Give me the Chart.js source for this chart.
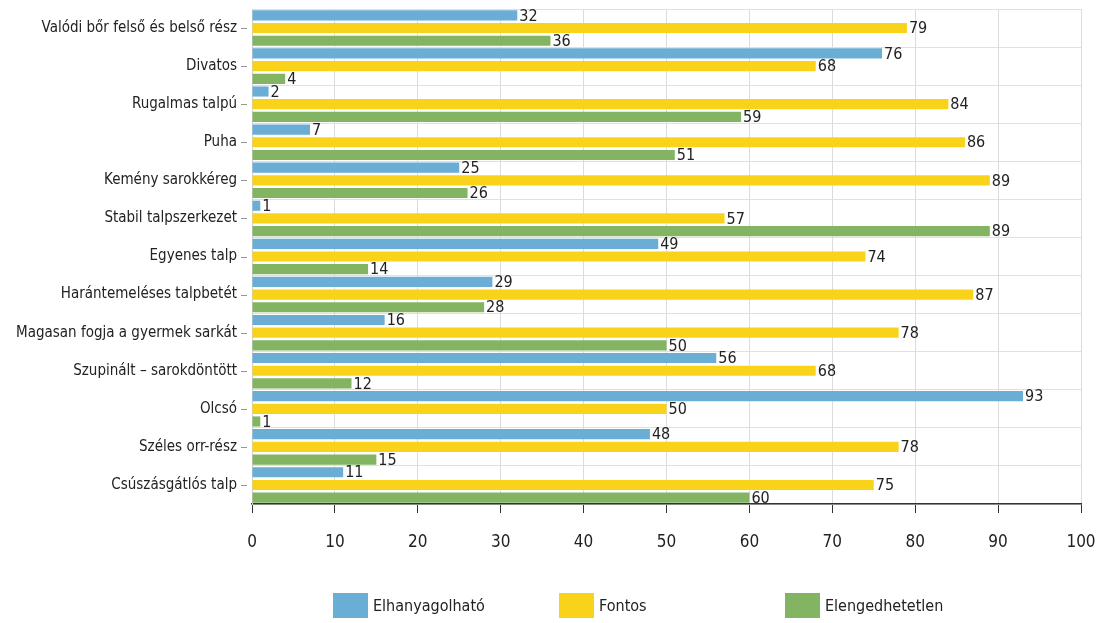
<!DOCTYPE html>
<html>
<head>
<meta charset="utf-8">
<script src="https://cdn.jsdelivr.net/npm/chart.js@4.4.1/dist/chart.umd.min.js"></script>
<style>
  html, body { margin: 0; padding: 0; background: #ffffff; }
  #wrap { width: 1101px; height: 623px; }
</style>
</head>
<body>
<div id="wrap"><canvas id="c" width="1101" height="623"></canvas></div>
<script>
const categories = [
  "Valódi bőr felső és belső rész",
  "Divatos",
  "Rugalmas talpú",
  "Puha",
  "Kemény sarokkéreg",
  "Stabil talpszerkezet",
  "Egyenes talp",
  "Harántemeléses talpbetét",
  "Magasan fogja a gyermek sarkát",
  "Szupinált – sarokdöntött",
  "Olcsó",
  "Széles orr-rész",
  "Csúszásgátlós talp"
];
const seriesNames = ["Elhanyagolható", "Fontos", "Elengedhetetlen"];
const elhanyagolhato = [32, 76, 2, 7, 25, 1, 49, 29, 16, 56, 93, 48, 11];
const fontos = [79, 68, 84, 86, 89, 57, 74, 87, 78, 68, 50, 78, 75];
const elengedhetetlen = [36, 4, 59, 51, 26, 89, 14, 28, 50, 12, 1, 15, 60];
const xMin = 0, xMax = 100, xStep = 10;

const FONT = "'DejaVu Sans Condensed', 'DejaVu Sans', sans-serif";
const colors = ["#6aaed6", "#f9d31a", "#82b462"];

const valueLabels = {
  id: 'valueLabels',
  afterDatasetsDraw(chart) {
    const ctx = chart.ctx;
    ctx.save();
    ctx.font = "16px " + FONT;
    ctx.fillStyle = "#222";
    ctx.textAlign = "left";
    ctx.textBaseline = "middle";
    chart.data.datasets.forEach((ds, di) => {
      const meta = chart.getDatasetMeta(di);
      meta.data.forEach((bar, i) => {
        ctx.fillText(String(ds.data[i]), bar.x + 2, bar.y + 1);
      });
    });
    ctx.restore();
  }
};

const yDashes = {
  id: 'yDashes',
  afterDraw(chart) {
    const y = chart.scales.y;
    const ctx = chart.ctx;
    ctx.save();
    ctx.strokeStyle = "#999";
    ctx.lineWidth = 1;
    for (let i = 0; i < categories.length; i++) {
      const py = Math.round(y.getPixelForTick(i)) + 0.5;
      ctx.beginPath();
      ctx.moveTo(y.right - 11, py);
      ctx.lineTo(y.right - 5, py);
      ctx.stroke();
    }
    ctx.restore();
  }
};

const customLegend = {
  id: 'customLegend',
  afterDraw(chart) {
    const ctx = chart.ctx;
    const ca = chart.chartArea;
    ctx.save();
    ctx.font = "16px " + FONT;
    ctx.textBaseline = "middle";
    ctx.textAlign = "left";
    chart.data.datasets.forEach((ds, i) => {
      const x = ca.left + 81 + i * 226;
      const top = ca.bottom + 89;
      ctx.fillStyle = ds.backgroundColor;
      ctx.fillRect(x, top, 35, 25);
      ctx.fillStyle = "#222";
      ctx.fillText(ds.label, x + 40, top + 14);
    });
    ctx.restore();
  }
};

new Chart(document.getElementById('c'), {
  type: 'bar',
  data: {
    labels: categories,
    datasets: [
      { label: seriesNames[0], data: elhanyagolhato, backgroundColor: colors[0] },
      { label: seriesNames[1], data: fontos, backgroundColor: colors[1] },
      { label: seriesNames[2], data: elengedhetetlen, backgroundColor: colors[2] }
    ]
  },
  options: {
    indexAxis: 'y',
    responsive: false,
    animation: false,
    devicePixelRatio: 1,
    layout: { padding: { top: 9, right: 20, bottom: 71, left: 0 } },
    datasets: { bar: { barPercentage: 0.8, categoryPercentage: 1.0 } },
    plugins: {
      legend: { display: false },
      tooltip: { enabled: false }
    },
    scales: {
      x: {
        min: xMin, max: xMax,
        ticks: { stepSize: xStep, color: "#222", font: { family: FONT, size: 17 }, padding: 19 },
        grid: { color: "#dcdcdc", tickColor: "#333", tickLength: 9, lineWidth: 1 },
        border: { color: "#333", width: 1.5 },
        afterFit(s) { s.height = 48; s.paddingLeft = 0; s.paddingRight = 0; s.paddingTop = 0; s.paddingBottom = 0; }
      },
      y: {
        offset: true,
        ticks: { color: "#222", font: { family: FONT, size: 15 }, padding: 15, autoSkip: false },
        grid: { offset: true, color: "#e0e0e0", drawTicks: false },
        border: { color: "#cfcfcf" },
        afterFit(s) { s.width = 252; s.paddingLeft = 0; s.paddingRight = 0; s.paddingTop = 0; s.paddingBottom = 0; }
      }
    }
  },
  plugins: [valueLabels, yDashes, customLegend]
});
</script>
</body>
</html>
